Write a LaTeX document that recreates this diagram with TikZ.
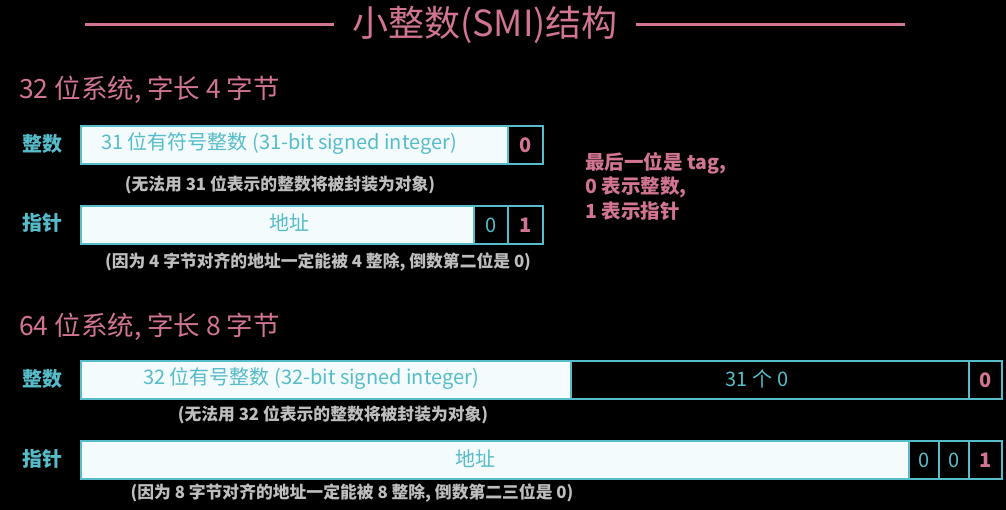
\documentclass[tikz,border=0pt]{standalone}
\usepackage{fontspec}
\setmainfont{Noto Sans CJK SC}
\definecolor{pinkc}{HTML}{D17591}
\definecolor{tealc}{HTML}{56BCCA}
\definecolor{cellfill}{HTML}{F3FBFC}
\definecolor{notec}{HTML}{BEBEBE}
\begin{document}
\begin{tikzpicture}[x=1pt,y=-1pt,
  cellw/.style={draw=tealc,line width=2pt,fill=cellfill,anchor=north west,inner sep=0pt,minimum height=38pt},
  cellb/.style={draw=tealc,line width=2pt,fill=black,text=tealc,anchor=north west,inner sep=0pt,minimum height=38pt,font=\fontsize{20}{22}\selectfont},
  tagc/.style={cellb,text=pinkc,font=\fontsize{20}{22}\selectfont\bfseries},
  celltext/.style={text=tealc,font=\fontsize{20}{22}\selectfont,anchor=center,inner sep=0pt},
  rowlabel/.style={text=tealc,font=\fontsize{20}{22}\selectfont\bfseries,anchor=center},
  note/.style={text=notec,font=\fontsize{16.8}{18}\selectfont\bfseries,anchor=center},
  section/.style={text=pinkc,font=\fontsize{26.5}{28}\selectfont,anchor=west,inner sep=0pt},
  tagnote/.style={text=pinkc,font=\fontsize{19.5}{24.5}\selectfont\bfseries,anchor=north west,align=left,inner sep=0pt}]
\useasboundingbox (0,0) rectangle (1006,510);
\fill[black] (0,0) rectangle (1006,510);
% title
\node[text=pinkc,font=\fontsize{36}{38}\selectfont,inner sep=0pt] (title) at (485,25) {小整数(SMI)结构};
\coordinate (tl1) at (85,25);
\coordinate (tr1) at (905,25);
\draw[pinkc,line width=3pt] (tl1) -- ([xshift=-18pt]title.west);
\draw[pinkc,line width=3pt] ([xshift=18pt]title.east) -- (tr1);
% 32-bit
\node[section] (s32) at (19,90) {32 位系统, 字长 4 字节};
\node[rowlabel] (l1) at (42,144) {整数};
\node[cellw,minimum width=427pt] (i32) at (80,125) {};
\node[celltext] (i32x) at (279,144) {31 位有符号整数 (31-bit signed integer)};
\node[tagc,minimum width=35pt] (i32t) at (507,125) {0};
\node[note] (n1) at (280,185) {(无法用 31 位表示的整数将被封装为对象)};
\node[rowlabel] (l2) at (42,223) {指针};
\node[cellw,minimum width=393pt] (p32) at (80,205) {};
\node[celltext] (p32x) at (289,223) {地址};
\node[cellb,minimum width=34pt] (p32a) at (473,205) {0};
\node[tagc,minimum width=35pt] (p32t) at (507,205) {1};
\node[note] (n2) at (318,262) {(因为 4 字节对齐的地址一定能被 4 整除, 倒数第二位是 0)};
\node[tagnote] (tag) at (585,152) {最后一位是 tag,\\0 表示整数,\\1 表示指针};
% 64-bit
\node[section] (s64) at (19,327) {64 位系统, 字长 8 字节};
\node[rowlabel] (l3) at (42,379) {整数};
\node[cellw,minimum width=490pt] (i64) at (80,360) {};
\node[celltext] (i64x) at (311,379) {32 位有号整数 (32-bit signed integer)};
\node[cellb,minimum width=398pt] (i64z) at (570,360) {};
\node[celltext] (i64zx) at (757,379) {31 个 0};
\node[tagc,minimum width=33pt] (i64t) at (968,360) {0};
\node[note] (n3) at (333,415) {(无法用 32 位表示的整数将被封装为对象)};
\node[rowlabel] (l4) at (42,459) {指针};
\node[cellw,minimum width=828pt] (p64) at (80,440) {};
\node[celltext] (p64x) at (475,459) {地址};
\node[cellb,minimum width=30pt] (p64a) at (908,440) {0};
\node[cellb,minimum width=30pt] (p64b) at (938,440) {0};
\node[tagc,minimum width=33pt] (p64t) at (968,440) {1};
\node[note] (n4) at (352,493) {(因为 8 字节对齐的地址一定能被 8 整除, 倒数第二三位是 0)};
\end{tikzpicture}
\end{document}
